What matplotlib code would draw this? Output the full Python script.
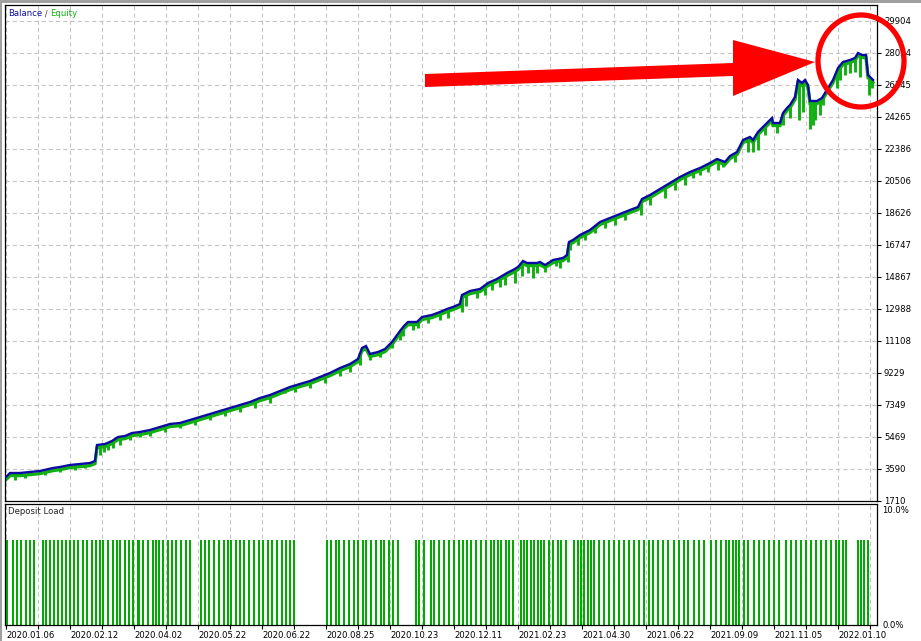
import matplotlib
matplotlib.use("Agg")
import matplotlib.pyplot as plt
import numpy as np
from matplotlib.patches import Ellipse, Polygon, Rectangle
from matplotlib.transforms import offset_copy

plt.rcParams['font.family'] = ['DejaVu Sans']
plt.rcParams['lines.scale_dashes'] = False

# ---------------- data (x = trade sequence index) ----------------
balance_x = [0, 4, 14, 24, 34, 47, 54, 64, 74, 84, 89, 91, 99, 106, 112, 119, 126, 134, 144, 154,
             164, 174, 184, 194, 204, 214, 224, 234, 244, 254, 264, 274, 284, 294, 304, 314, 324, 334,
             344, 352, 356, 360, 364, 372, 379, 386, 394, 398, 402, 411, 416, 426, 434, 441, 447, 454,
             456, 464, 474, 482, 491, 501, 507, 512, 517, 521, 531, 534, 539, 544, 547, 557, 561, 563,
             567, 574, 584, 594, 604, 614, 624, 632, 636, 644, 654, 664, 674, 684, 694, 704, 711, 719,
             724, 731, 737, 744, 747, 752, 761, 766, 767, 774, 777, 781, 784, 789, 792, 796, 799, 802,
             804, 811, 816, 819, 827, 832, 837, 844, 849, 852, 856, 860, 862, 867]
balance_y = [3120, 3355, 3355, 3413, 3472, 3648, 3707, 3825, 3883, 3942, 4060, 5000, 5058, 5234, 5469,
             5528, 5704, 5763, 5881, 6057, 6233, 6292, 6468, 6644, 6820, 6997, 7173, 7349, 7525, 7760,
             7936, 8171, 8406, 8583, 8759, 8994, 9229, 9522, 9757, 10051, 10697, 10815, 10345, 10462,
             10638, 11050, 11696, 11990, 12224, 12224, 12518, 12636, 12812, 12988, 13106, 13282, 13810,
             14045, 14163, 14515, 14750, 15103, 15279, 15455, 15808, 15690, 15690, 15749, 15572, 15749,
             15866, 15984, 16160, 16924, 17041, 17335, 17629, 18098, 18333, 18568, 18803, 18980, 19449,
             19684, 20037, 20389, 20742, 21035, 21270, 21564, 21799, 21623, 21975, 22210, 22915, 23091,
             22915, 23385, 23914, 24207, 23914, 23914, 24501, 24795, 24971, 25441, 26440, 26263, 26440,
             26146, 25206, 25206, 25382, 25676, 26440, 27144, 27497, 27614, 27732, 28026, 27908, 27908,
             26733, 26440]

# equity drawdown spikes: position and lowest equity value
equity_dip_x = [9, 19, 39, 54, 69, 79, 94, 98, 102, 107, 114, 124, 134, 144, 159, 174, 189, 204, 219,
                234, 249, 264, 279, 289, 304, 319, 334, 344, 354, 364, 374, 386, 394, 397, 407, 412,
                422, 434, 442, 456, 460, 471, 479, 486, 494, 499, 509, 516, 522, 527, 531, 539, 550,
                554, 562, 564, 572, 579, 589, 599, 609, 619, 635, 644, 659, 669, 679, 687, 694, 702,
                712, 717, 729, 742, 747, 752, 759, 771, 777, 784, 793, 797, 804, 807, 809, 814, 817,
                831, 834, 839, 844, 849, 854, 863, 866]
equity_dip_y = [2944, 3061, 3237, 3413, 3531, 3648, 4412, 4588, 4706, 4823, 4999, 5293, 5469, 5528,
                5763, 5998, 6174, 6468, 6703, 6938, 7173, 7467, 8054, 8113, 8348, 8641, 9053, 9287,
                9699, 9992, 10169, 10697, 11167, 11402, 11754, 11872, 12166, 12342, 12459, 12812,
                13164, 13634, 13810, 14104, 14280, 14398, 14515, 14927, 15103, 14809, 15103, 15161,
                15514, 15396, 15749, 16454, 16747, 17041, 17452, 17746, 17922, 18216, 18510, 19097,
                19508, 19978, 20272, 20683, 20859, 21035, 21153, 21329, 21623, 22210, 22210, 22328,
                23209, 23326, 23796, 24207, 24090, 24560, 23561, 23796, 24090, 24383, 24971, 25970,
                26440, 26733, 26851, 26909, 26616, 25558, 25970]

# deposit load bars (positions of trades with open positions)
load_x = [0, 6, 10, 14, 19, 23, 27, 36, 39, 43, 47, 51, 55, 59, 63, 67, 71, 76, 80, 85, 89, 93, 96,
          101, 106, 110, 113, 118, 122, 126, 131, 132, 136, 141, 146, 149, 152, 156, 161, 165, 169,
          174, 179, 183, 194, 198, 202, 207, 212, 217, 221, 224, 229, 233, 237, 242, 247, 252, 256,
          261, 265, 270, 275, 279, 283, 287, 320, 324, 329, 332, 337, 342, 347, 351, 356, 359, 364,
          369, 374, 377, 382, 386, 391, 409, 412, 417, 424, 427, 432, 437, 442, 447, 452, 456, 460,
          464, 469, 474, 479, 484, 487, 491, 494, 499, 502, 506, 514, 517, 520, 524, 527, 531, 534,
          537, 542, 546, 551, 554, 559, 567, 571, 574, 577, 581, 584, 587, 592, 597, 602, 607, 612,
          617, 622, 627, 632, 637, 642, 646, 651, 656, 661, 667, 672, 677, 681, 687, 692, 697, 704,
          709, 714, 719, 722, 726, 729, 732, 737, 741, 747, 752, 757, 762, 767, 772, 779, 784, 789,
          794, 799, 804, 809, 814, 819, 824, 829, 832, 836, 839, 851, 854, 857, 861]
load_pct = 7.4

x_tick_labels = ['2020.01.06', '2020.02.12', '2020.04.02', '2020.05.22', '2020.06.22', '2020.08.25',
                 '2020.10.23', '2020.12.11', '2021.02.23', '2021.04.30', '2021.06.22', '2021.09.09',
                 '2021.11.05', '2022.01.10']
y_tick_labels = ['1710', '3590', '5469', '7349', '9229', '11108', '12988', '14867', '16747', '18626',
                 '20506', '22386', '24265', '26145', '28024', '29904']
y_ticks = [1710, 3589.6, 5469.2, 7348.8, 9228.4, 11108, 12987.6, 14867.2, 16746.8, 18626.4,
           20506, 22385.6, 24265.2, 26144.8, 28024.4, 29904]

# ---------------- figure ----------------
W, H = 921, 641
fig = plt.figure(figsize=(W / 100, H / 100), dpi=100)
fig.patch.set_facecolor('white')

def fx(px):
    return px / W

def fy(py):
    return 1 - py / H

BLUE = '#0b0ba4'
GREEN = '#11b011'
GRID = '#c4c4c4'
FS = 6.1

ax = fig.add_axes([fx(5), fy(501), fx(872), (501 - 5) / H])
ax2 = fig.add_axes([fx(5), fy(625), fx(872), (625 - 504) / H])

xmin, xmax = -1, 871
grid_x = list(range(0, 871, 32))

for a in (ax, ax2):
    a.set_xlim(xmin, xmax)
    for s in a.spines.values():
        s.set_color('black')
        s.set_linewidth(0.9)
    a.set_xticks(grid_x)
    for gx in grid_x:
        a.axvline(gx, color=GRID, lw=0.8, ls=(0, (3, 2.2)), zorder=0)

# main panel
ax.set_ylim(1710, 1710 + 496 * 58.7375)
for yt in y_ticks[1:]:
    ax.axhline(yt, color=GRID, lw=0.8, ls=(0, (3, 2.2)), zorder=0)
ax.yaxis.tick_right()
ax.set_yticks(y_ticks)
ax.set_yticklabels(y_tick_labels, fontsize=FS)
ax.tick_params(axis='y', direction='out', length=3, width=0.8, pad=2)
ax.tick_params(axis='x', length=0, labelbottom=False)

# equity: shadow line + drawdown spikes
shadow = offset_copy(ax.transData, fig=fig, x=0, y=-2.6, units='dots')
ax.plot(balance_x, balance_y, color=GREEN, lw=2.4, transform=shadow, zorder=2,
        solid_joinstyle='miter')
bal_at = np.interp(equity_dip_x, balance_x, balance_y)
ax.vlines(equity_dip_x, equity_dip_y, bal_at, color=GREEN, lw=2.1, zorder=2)
ax.plot(balance_x, balance_y, color=BLUE, lw=1.7, zorder=3, solid_joinstyle='miter')

# legend-like caption
renderer = fig.canvas.get_renderer()
xpos = 8
for txt, col in (('Balance', BLUE), (' / ', '#444444'), ('Equity', GREEN)):
    t = fig.text(fx(xpos), fy(14), txt, color=col, fontsize=FS, va='center')
    xpos += t.get_window_extent(renderer).width

# deposit load panel
ax2.set_ylim(0, 10.5)
ax2.bar(load_x, [load_pct] * len(load_x), width=2.0, color='#00aa00', align='edge', zorder=2)
ax2.yaxis.tick_right()
ax2.set_yticks([0, 10])
ax2.set_yticklabels(['0.0%', '10.0%'], fontsize=FS)
ax2.tick_params(axis='y', length=0, pad=4)
ax2.set_xticklabels([x_tick_labels[j // 2] if j % 2 == 0 else '' for j in range(len(grid_x))],
                    fontsize=FS)
for t in ax2.get_xticklabels():
    t.set_ha('left')
ax2.tick_params(axis='x', direction='out', length=3, width=0.8, pad=1.5)
fig.text(fx(8), fy(512), 'Deposit Load', color='#222222', fontsize=FS, va='center')

# red annotation: arrow + circle
arrow_pts = [(425, 74), (733, 63), (733, 40), (815, 62), (733, 96), (733, 76), (425, 87)]
fig.patches.append(Polygon([(fx(px), fy(py)) for px, py in arrow_pts], closed=True,
                           transform=fig.transFigure, facecolor='#ff0000', edgecolor='none',
                           zorder=10))
fig.patches.append(Ellipse((fx(861), fy(61)), 86 / W, 92 / H, transform=fig.transFigure,
                           facecolor='none', edgecolor='#ff0000', lw=3.8, zorder=10))

# window frame
fig.patches.append(Rectangle((0, fy(3)), 1, 3 / H, transform=fig.transFigure, color='#a0a0a0', lw=0))
fig.patches.append(Rectangle((0, 0), 2 / W, 1, transform=fig.transFigure, color='#a0a0a0', lw=0))

fig.savefig('out.png', dpi=100)
